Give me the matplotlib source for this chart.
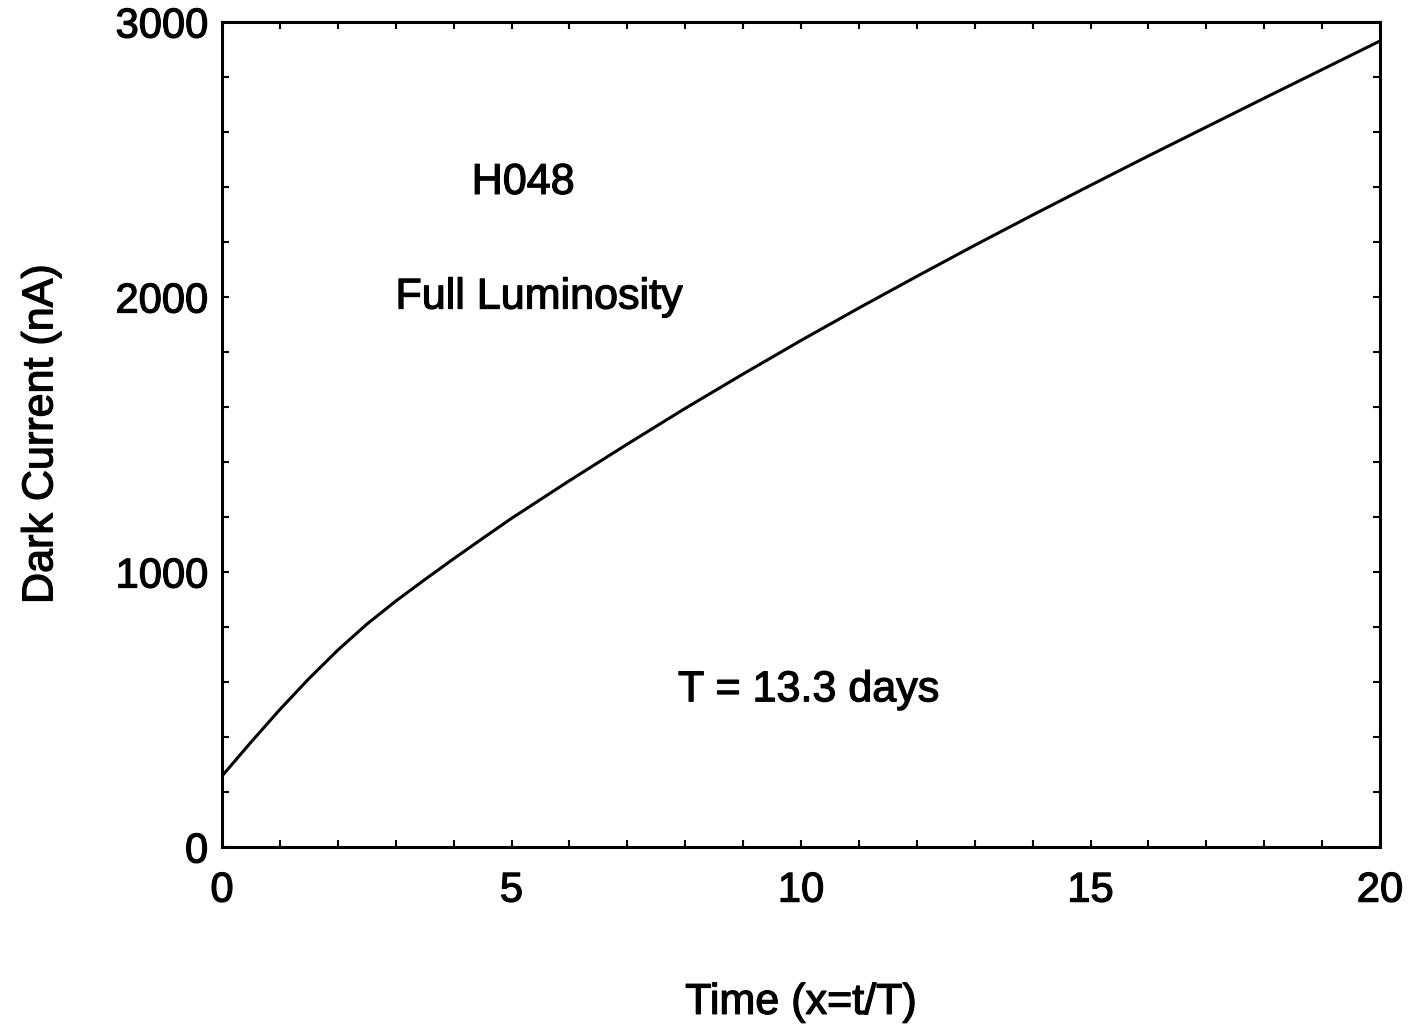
import matplotlib.pyplot as plt
import matplotlib.patheffects as pe
from matplotlib.ticker import MultipleLocator

# dark current vs. scaled time x = t/T (finer steps where the curve bends)
time_x = [0, 0.5, 1, 1.5, 2, 2.5, 3, 3.5, 4, 4.5, 5, 6, 7, 8, 9, 10, 11, 12, 13, 14,
          15, 16, 17, 18, 19, 20]
dark_current = [258, 381, 500, 612, 716, 810, 894, 972, 1048, 1122, 1195, 1332, 1465,
                1595, 1720, 1842, 1960, 2075, 2188, 2298, 2406, 2513, 2618, 2723, 2827,
                2931]


def main():
    plt.rcParams["font.family"] = ["Liberation Sans", "DejaVu Sans"]
    # slightly heavier strokes for the lettering
    heavy = [pe.withStroke(linewidth=0.9, foreground="black")]

    fig = plt.figure(figsize=(14.09, 10.33), dpi=100)
    ax = fig.add_axes([222 / 1409, 1 - 847 / 1033, (1380 - 222) / 1409, (847 - 22) / 1033])

    ax.plot(time_x, dark_current, color="black", linewidth=2.2)

    ax.set_xlim(0, 20)
    ax.set_ylim(0, 3000)
    ax.xaxis.set_major_locator(MultipleLocator(5))
    ax.xaxis.set_minor_locator(MultipleLocator(1))
    ax.yaxis.set_major_locator(MultipleLocator(1000))
    ax.yaxis.set_minor_locator(MultipleLocator(200))
    ax.tick_params(which="both", direction="in", top=True, right=True,
                   length=5, width=1.5, labelsize=30)
    ax.tick_params(axis="x", which="major", pad=17)
    ax.tick_params(axis="y", which="major", pad=10)
    for s in ax.spines.values():
        s.set_linewidth(2.2)
    for lbl in ax.get_xticklabels() + ax.get_yticklabels():
        lbl.set_path_effects(heavy)

    ax.set_xlabel("Time (x=t/T)", fontsize=31, labelpad=52, path_effects=heavy)
    ax.set_ylabel("Dark Current (nA)", fontsize=31, labelpad=39, path_effects=heavy)

    ax.text(5.2, 2415, "H048", fontsize=31, ha="center", va="center", path_effects=heavy)
    ax.text(5.47, 1998, "Full Luminosity", fontsize=31, ha="center", va="center",
            path_effects=heavy)
    ax.text(10.13, 570, "T = 13.3 days", fontsize=31, ha="center", va="center",
            path_effects=heavy)

    fig.savefig("out.png", dpi=100)


if __name__ == "__main__":
    main()
